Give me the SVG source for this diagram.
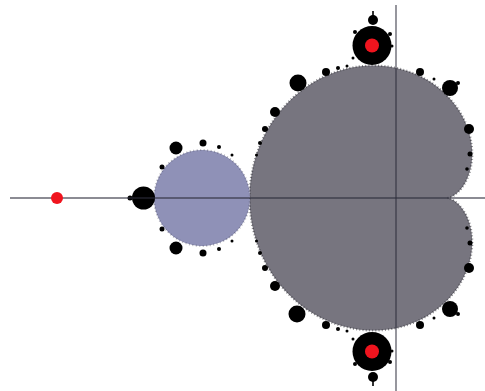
<svg xmlns="http://www.w3.org/2000/svg" width="485" height="391" viewBox="0 0 485 391">
<style>
.b{fill:#000}
.r{fill:#f0141e}
.ax{stroke:#2c2c3a;stroke-opacity:0.55;stroke-width:1.8;fill:none}
</style>
<rect width="485" height="391" fill="#fff"/>
<g id="cardioid">
<path fill="#77757f" stroke="#2a2a30" stroke-opacity="0.55" stroke-width="2.2" stroke-dasharray="1 2.2" d="M447.5,198 C447.5,198 449.65,197.96 453.11,195.9 C456.58,193.84 461.3,189.69 465.24,182.66 C469.18,175.63 472.25,165.7 472.25,153.83 C472.25,141.96 469.12,128.2 461.71,114.99 C454.31,101.78 442.61,89.2 427.32,80.11 C412.04,71.02 393.2,65.5 373.25,65.5 C353.3,65.5 332.32,71.06 313.57,82.21 C294.82,93.36 278.4,110.09 267.05,130.33 C255.71,150.58 249.5,174.26 249.5,198 C249.5,221.74 255.71,245.42 267.05,265.67 C278.4,285.91 294.82,302.64 313.57,313.79 C332.32,324.94 353.3,330.5 373.25,330.5 C393.2,330.5 412.04,324.98 427.32,315.89 C442.61,306.8 454.31,294.22 461.71,281.01 C469.12,267.8 472.25,254.04 472.25,242.17 C472.25,230.3 469.18,220.37 465.24,213.34 C461.3,206.31 456.58,202.16 453.11,200.1 C449.65,198.04 447.5,198 447.5,198 Z"/>
</g>
<g id="period2">
<circle cx="202" cy="198" r="48" fill="#8f91b7" stroke="#2a2a40" stroke-opacity="0.35" stroke-width="2" stroke-dasharray="1 2.5"/>
</g>
<g id="bulbs">
<!-- period 3 top -->
<circle class="b" cx="372" cy="45.5" r="19.5"/>
<circle class="b" cx="373" cy="20" r="5"/>
<rect class="b" x="372.2" y="11" width="1.6" height="10"/>
<circle class="b" cx="355" cy="32" r="2"/>
<circle class="b" cx="390" cy="34" r="2"/>
<circle class="b" cx="392" cy="46" r="1.5"/>
<circle class="b" cx="353" cy="58" r="1.5"/>
<!-- period 3 bottom -->
<circle class="b" cx="372" cy="351.5" r="19.5"/>
<circle class="b" cx="373" cy="377" r="5"/>
<rect class="b" x="372.2" y="376" width="1.6" height="10"/>
<circle class="b" cx="355" cy="364" r="2"/>
<circle class="b" cx="390" cy="362" r="2"/>
<circle class="b" cx="392" cy="351" r="1.5"/>
<circle class="b" cx="353" cy="339" r="1.5"/>
<!-- cardioid satellites top -->
<circle class="b" cx="450" cy="88" r="8"/>
<circle class="b" cx="458" cy="83" r="2"/>
<circle class="b" cx="469" cy="129" r="5"/>
<circle class="b" cx="470" cy="154" r="2.5"/>
<circle class="b" cx="467" cy="169" r="1.8"/>
<circle class="b" cx="420" cy="72" r="4"/>
<circle class="b" cx="434" cy="79" r="1.5"/>
<circle class="b" cx="326" cy="72" r="4"/>
<circle class="b" cx="338" cy="68" r="2"/>
<circle class="b" cx="347" cy="66" r="1.5"/>
<circle class="b" cx="298" cy="83" r="8.5"/>
<circle class="b" cx="275" cy="112" r="5"/>
<circle class="b" cx="265" cy="129" r="3"/>
<circle class="b" cx="260" cy="143" r="2"/>
<circle class="b" cx="256.5" cy="155" r="1.5"/>
<!-- cardioid satellites bottom -->
<circle class="b" cx="450" cy="309" r="8"/>
<circle class="b" cx="458" cy="314" r="2"/>
<circle class="b" cx="469" cy="268" r="5"/>
<circle class="b" cx="470" cy="243" r="2.5"/>
<circle class="b" cx="467" cy="228" r="1.8"/>
<circle class="b" cx="420" cy="325" r="4"/>
<circle class="b" cx="434" cy="318" r="1.5"/>
<circle class="b" cx="326" cy="325" r="4"/>
<circle class="b" cx="338" cy="329" r="2"/>
<circle class="b" cx="347" cy="331" r="1.5"/>
<circle class="b" cx="297" cy="314" r="8.5"/>
<circle class="b" cx="275" cy="286" r="5"/>
<circle class="b" cx="265" cy="268" r="3"/>
<circle class="b" cx="260" cy="253" r="2"/>
<circle class="b" cx="256.5" cy="241" r="1.5"/>
<!-- period 2 satellites -->
<circle class="b" cx="176" cy="148" r="6.5"/>
<circle class="b" cx="203" cy="143" r="3.5"/>
<circle class="b" cx="162" cy="167" r="2.5"/>
<circle class="b" cx="219" cy="147" r="2"/>
<circle class="b" cx="232" cy="155" r="1.5"/>
<circle class="b" cx="176" cy="248" r="6.5"/>
<circle class="b" cx="203" cy="253" r="3.5"/>
<circle class="b" cx="162" cy="229" r="2.5"/>
<circle class="b" cx="219" cy="249" r="2"/>
<circle class="b" cx="232" cy="241" r="1.5"/>
<!-- period 4 on axis -->
<circle class="b" cx="143.5" cy="198" r="11.5"/>
<circle class="b" cx="130" cy="198" r="2.5"/>
</g>
<g id="axes">
<line class="ax" x1="10" y1="198" x2="485" y2="198"/>
<line class="ax" x1="396" y1="5" x2="396" y2="391"/>
</g>
<g id="points">
<circle class="r" cx="57" cy="198" r="6"/>
<circle class="r" cx="372" cy="45.5" r="7"/>
<circle class="r" cx="372" cy="351.5" r="7"/>
</g>
</svg>
